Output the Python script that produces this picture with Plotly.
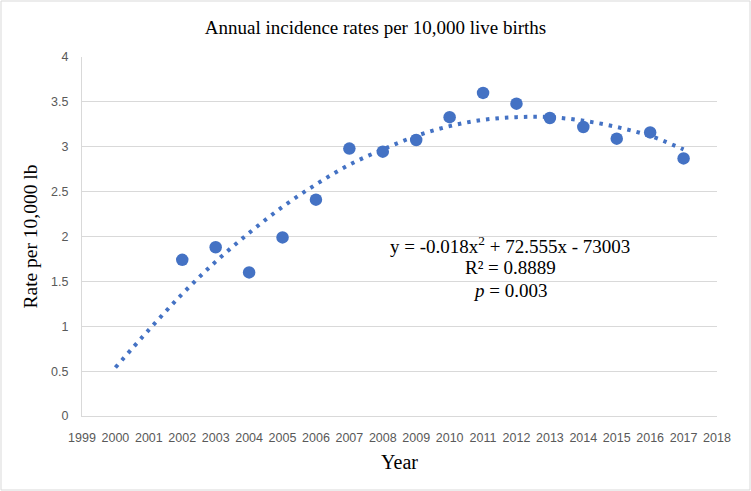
import plotly.graph_objects as go

years = [2002, 2003, 2004, 2005, 2006, 2007, 2008, 2009, 2010, 2011, 2012, 2013, 2014, 2015, 2016, 2017]
rates = [1.74, 1.88, 1.60, 1.99, 2.41, 2.98, 2.945, 3.075, 3.33, 3.60, 3.48, 3.32, 3.22, 3.09, 3.16, 2.87]

trend_years = [2000, 2001, 2002, 2003, 2004, 2005, 2006, 2007, 2008, 2009, 2010, 2011, 2012, 2013, 2014, 2015, 2016, 2017]
trend_vals = [0.54, 0.96, 1.36, 1.72, 2.04, 2.33, 2.58, 2.80, 2.97, 3.12, 3.23, 3.30, 3.33, 3.33, 3.29, 3.22, 3.12, 2.97]

x_ticks = list(range(1999, 2019))
y_ticks = [0, 0.5, 1, 1.5, 2, 2.5, 3, 3.5, 4]

eq_lines = ["y = -0.018x<sup>2</sup> + 72.555x - 73003", "R² = 0.8889", "<i>p</i> = 0.003"]
eq_x = 2011.82
eq_y = [1.91, 1.65, 1.40]

BLUE = "#4472C4"
SERIF = "Liberation Serif, Times New Roman, serif"
SANS = "Liberation Sans, Arial, sans-serif"

fig = go.Figure()
fig.add_trace(go.Scatter(
    x=trend_years, y=trend_vals, mode="lines", line_shape="spline",
    line=dict(color=BLUE, width=4, dash="3.5px,6px"), hoverinfo="skip", showlegend=False))
fig.add_trace(go.Scatter(
    x=years, y=rates, mode="markers",
    marker=dict(color=BLUE, size=12.5, line=dict(width=0)), showlegend=False))

W, H = 751, 491
L, R, T, B = 82, 34, 57, 75
pw, ph = W - L - R, H - T - B

fig.update_layout(
    width=W, height=H,
    margin=dict(l=L, r=R, t=T, b=B),
    paper_bgcolor="white", plot_bgcolor="white",
    title=dict(text="Annual incidence rates per 10,000 live births",
               font=dict(family=SERIF, size=19, color="#000000"),
               x=0.5, xanchor="center", xref="container",
               y=1 - 27 / H, yanchor="middle"),
    xaxis=dict(range=[1999, 2018], tickvals=x_ticks, ticktext=[str(v) for v in x_ticks],
               showgrid=False, zeroline=False, showline=True, linecolor="#d9d9d9", linewidth=1,
               ticks="", ticklabelstandoff=10,
               tickfont=dict(family=SANS, size=12.5, color="#595959"),
               title=dict(text="Year", font=dict(family=SERIF, size=20, color="#000000"), standoff=10)),
    yaxis=dict(range=[0, 4], tickvals=y_ticks, ticktext=[f"{v:g}" for v in y_ticks],
               showgrid=True, gridcolor="#d9d9d9", gridwidth=1, zeroline=False,
               showline=True, linecolor="#d9d9d9", linewidth=1, ticks="", ticklabelstandoff=10,
               tickfont=dict(family=SANS, size=12.5, color="#595959"),
               title=dict(text="Rate per 10,000 lb", font=dict(family=SERIF, size=19.5, color="#000000"), standoff=8)),
)

ann_font = dict(family=SERIF, size=19, color="#000000")
for txt, yy in zip(eq_lines, eq_y):
    fig.add_annotation(x=eq_x, y=yy, xref="x", yref="y", text=txt, showarrow=False, font=ann_font)

fig.add_shape(type="rect", xref="paper", yref="paper",
              x0=-(L - 1) / pw, x1=1 + (R - 1) / pw, y0=-(B - 1) / ph, y1=1 + (T - 1) / ph,
              line=dict(color="#d9d9d9", width=1), fillcolor="rgba(0,0,0,0)", layer="below")

fig.write_html("out.html", config={"displayModeBar": False},
               post_script="document.body.style.margin='0';")
